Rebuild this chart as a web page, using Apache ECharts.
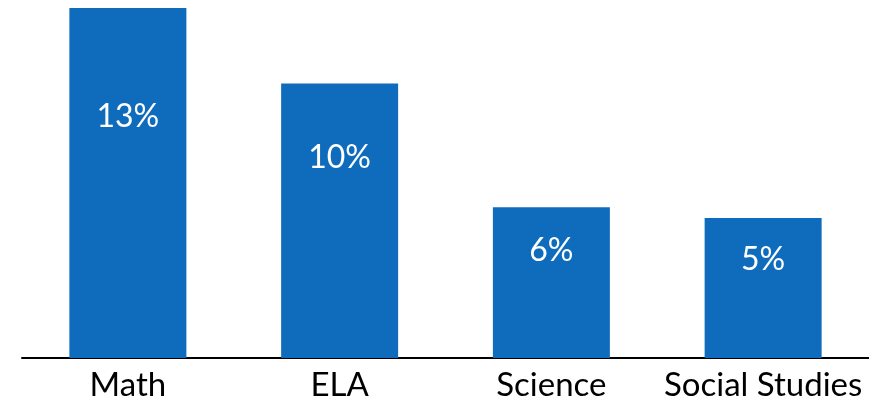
<!DOCTYPE html>
<html>
<head>
<meta charset="utf-8">
<script src="https://cdn.jsdelivr.net/npm/echarts@6/dist/echarts.min.js"></script>
<style>html,body{margin:0;padding:0;background:#fff}#c{width:869px;height:402px}</style>
</head>
<body>
<div id="c"></div>
<script>
const categories = ['Math', 'ELA', 'Science', 'Social Studies'];
const values = [13.0, 10.2, 5.6, 5.2];
const labelPos = ['31%', '27%', '28.5%', '29.5%'];

const chart = echarts.init(document.getElementById('c'));
chart.setOption({
  animation: false,
  grid: { left: 22, right: 0, top: 8, bottom: 43 },
  xAxis: {
    type: 'category',
    data: categories,
    axisLine: { lineStyle: { color: '#000', width: 2 } },
    axisTick: { show: false },
    axisLabel: { color: '#000', fontSize: 33, fontFamily: 'Lato', margin: 11, interval: 0, hideOverlap: false }
  },
  yAxis: { type: 'value', min: 0, max: 13, show: false, splitLine: { show: false } },
  series: [{
    type: 'bar',
    barWidth: 117,
    itemStyle: { color: '#0F6CBD' },
    data: values.map((v, i) => ({
      value: v,
      label: { position: ['50%', labelPos[i]] }
    })),
    label: {
      show: true,
      color: '#fff',
      fontSize: 32,
      fontFamily: 'Lato',
      align: 'center',
      verticalAlign: 'middle',
      formatter: p => Math.round(p.value) + '%'
    }
  }]
});
</script>
</body>
</html>
